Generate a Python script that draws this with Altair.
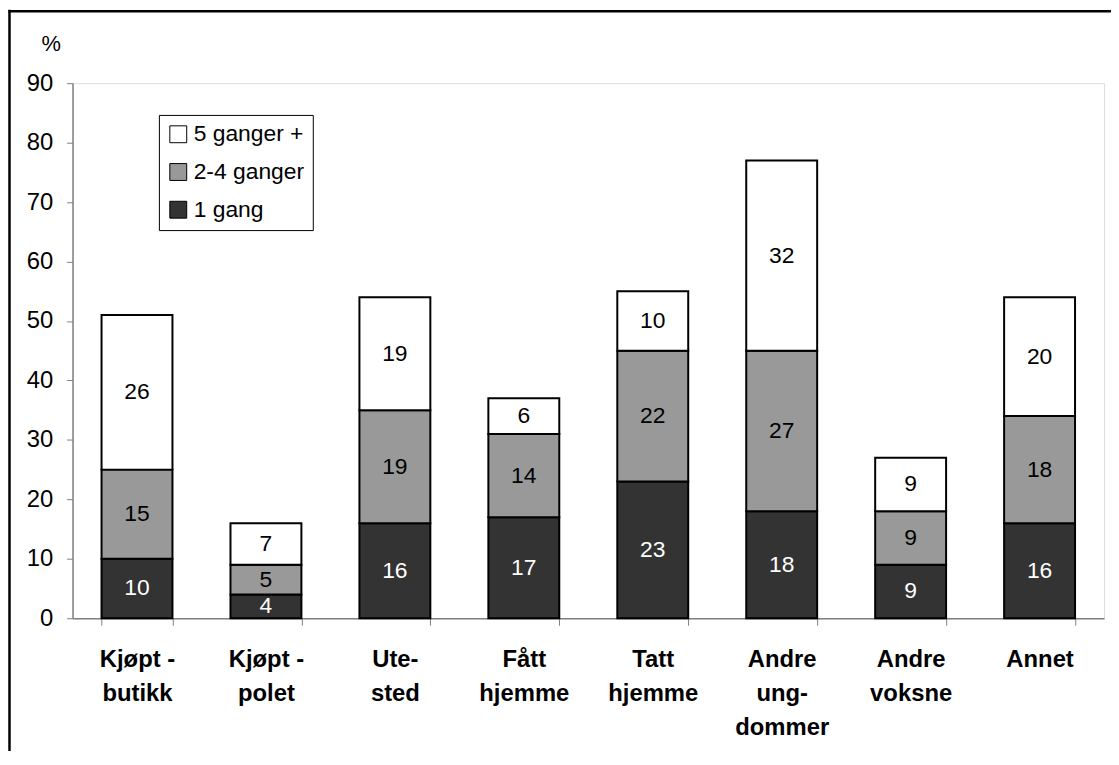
import altair as alt
import pandas as pd

categories = ["Kjøpt -|butikk", "Kjøpt -|polet", "Ute-|sted", "Fått|hjemme",
              "Tatt|hjemme", "Andre|ung-|dommer", "Andre|voksne", "Annet"]
series_names = ["1 gang", "2-4 ganger", "5 ganger +"]
one_time = [10, 4, 16, 17, 23, 18, 9, 16]
two_four = [15, 5, 19, 14, 22, 27, 9, 18]
five_plus = [26, 7, 19, 6, 10, 32, 9, 20]

rows = []
for i, c in enumerate(categories):
    for rank, (s, vals) in enumerate(zip(series_names, [one_time, two_four, five_plus])):
        rows.append({"cat": c, "series": s, "rank": rank, "value": vals[i]})
df = pd.DataFrame(rows)

FONT = "Liberation Sans"

base = alt.Chart(df).transform_stack(
    stack="value", groupby=["cat"], sort=[alt.SortField("rank", "ascending")], as_=["v0", "v1"]
).transform_calculate(mid="(datum.v0 + datum.v1) / 2")

xenc = alt.X("cat:N", sort=categories,
             scale=alt.Scale(paddingInner=0.45, paddingOuter=0.225),
             axis=alt.Axis(title=None, labelAngle=0, labelFontWeight="bold", labelFontSize=24,
                           labelFont=FONT, labelColor="black",
                           labelExpr="split(datum.label, '|')", labelLineHeight=34,
                           labelPadding=23, tickBand="extent", tickSize=7,
                           domainColor="#808080", tickColor="#808080", domainWidth=1.5))

yscale = alt.Scale(domain=[0, 90], nice=False)

bars = base.mark_bar(stroke="black", strokeWidth=2).encode(
    x=xenc,
    y=alt.Y("v0:Q", scale=yscale,
            axis=alt.Axis(title="%", titleAngle=0, titleX=-22, titleY=-28, titleFontSize=22,
                          titleFont=FONT, titleFontWeight="normal", titleColor="black",
                          values=list(range(0, 100, 10)), labelFontSize=24, labelFont=FONT,
                          labelColor="black", labelPadding=14, tickSize=6, grid=False,
                          domainColor="#808080", tickColor="#808080", domainWidth=1.5)),
    y2="v1:Q",
    color=alt.Color("series:N",
                    scale=alt.Scale(domain=["5 ganger +", "2-4 ganger", "1 gang"],
                                    range=["#ffffff", "#999999", "#333333"]),
                    legend=alt.Legend(title=None, orient="none", legendX=87, legendY=32,
                                      strokeColor="black", fillColor="white", padding=8,
                                      symbolType="square", symbolSize=289,
                                      symbolStrokeColor="black", symbolStrokeWidth=1,
                                      labelFontSize=23, labelFont=FONT, labelColor="black",
                                      labelOffset=4, rowPadding=14)),
)

labels = base.mark_text(fontSize=23, font=FONT, baseline="middle").encode(
    x=alt.X("cat:N", sort=categories),
    y=alt.Y("mid:Q", scale=yscale),
    text="value:Q",
    color=alt.condition(alt.datum.series == "1 gang", alt.value("white"), alt.value("black")),
)

frame_df = pd.DataFrame({"a": [0]})
left_line = alt.Chart(frame_df).mark_rule(color="black", strokeWidth=2.5).encode(
    x=alt.value(-63.5), y=alt.value(-74), y2=alt.value(700))
top_line = alt.Chart(frame_df).mark_rule(color="black", strokeWidth=2.5).encode(
    x=alt.value(-64.5), x2=alt.value(1100), y=alt.value(-72.5))

chart = alt.layer(bars, labels, left_line, top_line).properties(
    width=1039, height=539,
    autosize=alt.AutoSizeParams(type="none"),
    padding={"left": 65, "top": 73, "right": 7, "bottom": 131},
).configure_view(stroke=None).configure(background="white")

chart.save("out.html", embed_options={"renderer": "svg", "actions": False})
